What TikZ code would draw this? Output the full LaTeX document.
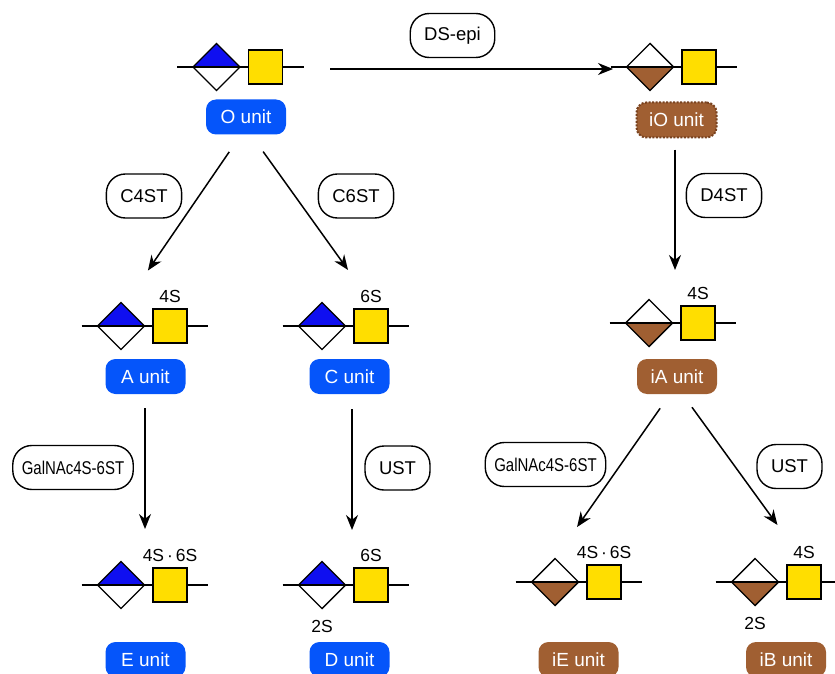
\documentclass[tikz,border=0pt]{standalone}
\usepackage{fontspec}
\setmainfont{Liberation Sans}
\usetikzlibrary{shapes.geometric, arrows.meta}

\definecolor{gcblue}{RGB}{15,15,240}
\definecolor{idbrown}{RGB}{160,95,50}
\definecolor{labblue}{RGB}{5,85,250}
\definecolor{labbrown}{RGB}{160,95,50}
\definecolor{dotbrown}{RGB}{120,65,30}
\definecolor{gnyellow}{RGB}{255,222,0}

\newcommand{\unitfont}{\fontsize{19}{22}\selectfont}
\newcommand{\enzfont}{\fontsize{18.5}{21}\selectfont}
\newcommand{\sulffont}{\fontsize{17.5}{20}\selectfont}

\tikzset{
    uronic/.style={diamond, draw, line width=1.4pt, minimum size=47pt, inner sep=0pt, outer sep=0pt, aspect=1},
    glca/.style={uronic, path picture={\fill[gcblue] (path picture bounding box.west) rectangle (path picture bounding box.north east);}},
    idoa/.style={uronic, path picture={\fill[idbrown] (path picture bounding box.west) rectangle (path picture bounding box.south east);}},
    galnac/.style={rectangle, draw, fill=gnyellow, line width=1.4pt, minimum size=34pt, inner sep=0pt, outer sep=0pt},
    bond/.style={line width=1.4pt},
    sulf/.style={font=\sulffont, inner sep=0pt, label distance=6.5pt},
    sulfb/.style={font=\sulffont, inner sep=0pt, label distance=12pt},
    unitlab/.style={rectangle, rounded corners=10pt, text=white, font=\unitfont, minimum width=80pt, minimum height=35pt, inner sep=0pt},
    enz/.style={rectangle, draw, rounded corners=19pt, line width=1.4pt, font=\enzfont, minimum height=44pt, inner xsep=14pt, inner ysep=0pt, fill=white},
    arr/.style={line width=1.5pt, -{Stealth[length=15pt, width=12pt]}},
}

\newcommand{\gn}{\node[glca]}
\newcommand{\idn}{\node[idoa]}
\newcommand{\sqn}{\node[galnac]}
\newcommand{\bun}{\node[unitlab, fill=labblue]}
\newcommand{\brn}{\node[unitlab, fill=labbrown]}
\newcommand{\ezn}{\node[enz]}
\newcommand{\backbone}[2]{\draw[bond] ([xshift=-16pt]#1.west) -- (#2.west) (#2.east) -- ++(21,0);}

\begin{document}
\begin{tikzpicture}[x=1pt, y=-1pt]
    \useasboundingbox (0,0) rectangle (835,674);

    % top row
    \gn (odia) at (216.5,67) {};
    \sqn (osq) at (265.5,67) {};
    \backbone{odia}{osq}
    \bun (olab) at (246,117) {O unit};

    \idn (iodia) at (650,67) {};
    \sqn (iosq) at (699,67) {};
    \backbone{iodia}{iosq}
    \brn[draw=dotbrown, line width=2pt, dash pattern=on 2pt off 1.5pt] (iolab) at (676.5,120) {iO unit};

    % middle row
    \gn (adia) at (121,326) {};
    \sqn[label={[sulf]above:4S}] (asq) at (170,326) {};
    \backbone{adia}{asq}
    \bun (alab) at (145.5,376.5) {A unit};

    \gn (cdia) at (322,326) {};
    \sqn[label={[sulf]above:6S}] (csq) at (371,326) {};
    \backbone{cdia}{csq}
    \bun (clab) at (349.5,376.5) {C unit};

    \idn (iadia) at (649,323) {};
    \sqn[label={[sulf]above:4S}] (iasq) at (698,323) {};
    \backbone{iadia}{iasq}
    \brn (ialab) at (677,376.5) {iA unit};

    % bottom row
    \gn (edia) at (121,585) {};
    \sqn[label={[sulf]above:4S\,·\,6S}] (esq) at (170,585) {};
    \backbone{edia}{esq}
    \bun (elab) at (145.5,659.5) {E unit};

    \gn[label={[sulfb]below:2S}] (ddia) at (322,585) {};
    \sqn[label={[sulf]above:6S}] (dsq) at (371,585) {};
    \backbone{ddia}{dsq}
    \bun (dlab) at (349.5,659.5) {D unit};

    \idn (iedia) at (555,582) {};
    \sqn[label={[sulf]above:4S\,·\,6S}] (iesq) at (604,582) {};
    \backbone{iedia}{iesq}
    \brn (ielab) at (578.5,659.5) {iE unit};

    \idn[label={[sulfb]below:2S}] (ibdia) at (755,582) {};
    \sqn[label={[sulf]above:4S}] (ibsq) at (804,582) {};
    \backbone{ibdia}{ibsq}
    \brn (iblab) at (786,659.5) {iB unit};

    % enzymes
    \ezn (dsepi) at (452.5,35.5) {DS-epi};
    \ezn (c4st) at (144,196) {C4ST};
    \ezn (c6st) at (356,196) {C6ST};
    \ezn (d4st) at (724,195.5) {D4ST};
    \ezn[inner xsep=9pt] (gall) at (73,467.5) {\scalebox{0.81}[1]{GalNAc4S-6ST}};
    \ezn (ustl) at (397.5,468) {UST};
    \ezn[inner xsep=9pt] (galr) at (545.5,464.5) {\scalebox{0.81}[1]{GalNAc4S-6ST}};
    \ezn (ustr) at (789.5,466.5) {UST};

    % reactions
    \draw[arr, shorten <=47.5pt, shorten >=13.5pt]
        ([yshift=-2pt]osq.east) -- ([yshift=-2pt]iodia.west);
    \draw[arr, shorten <=20.8pt, shorten >=38.8pt]
        ([xshift=-5pt]olab.south) -- ([xshift=5pt]adia.north);
    \draw[arr, shorten <=20.8pt, shorten >=48pt]
        ([xshift=5pt]olab.south) -- ([xshift=5pt]csq.north);
    \draw[arr, shorten <=11pt, shorten >=29.5pt]
        ([xshift=-1.5pt]iolab.south) -- ([xshift=-1.5pt]iolab.south |- iadia.north);
    \draw[arr, shorten <=14pt, shorten >=32.5pt]
        ([xshift=-0.5pt]alab.south) -- ([xshift=-0.5pt]alab.south |- edia.north);
    \draw[arr, shorten <=15pt, shorten >=31.5pt]
        ([xshift=2.5pt]clab.south) -- ([xshift=2.5pt]clab.south |- ddia.north);
    \draw[arr, shorten <=17.2pt, shorten >=38.4pt]
        ([xshift=-7pt]ialab.south) -- (iedia.north);
    \draw[arr, shorten <=16.1pt, shorten >=49.4pt]
        ([xshift=5.5pt]ialab.south) -- ([xshift=2.5pt]ibsq.north);
\end{tikzpicture}
\end{document}
